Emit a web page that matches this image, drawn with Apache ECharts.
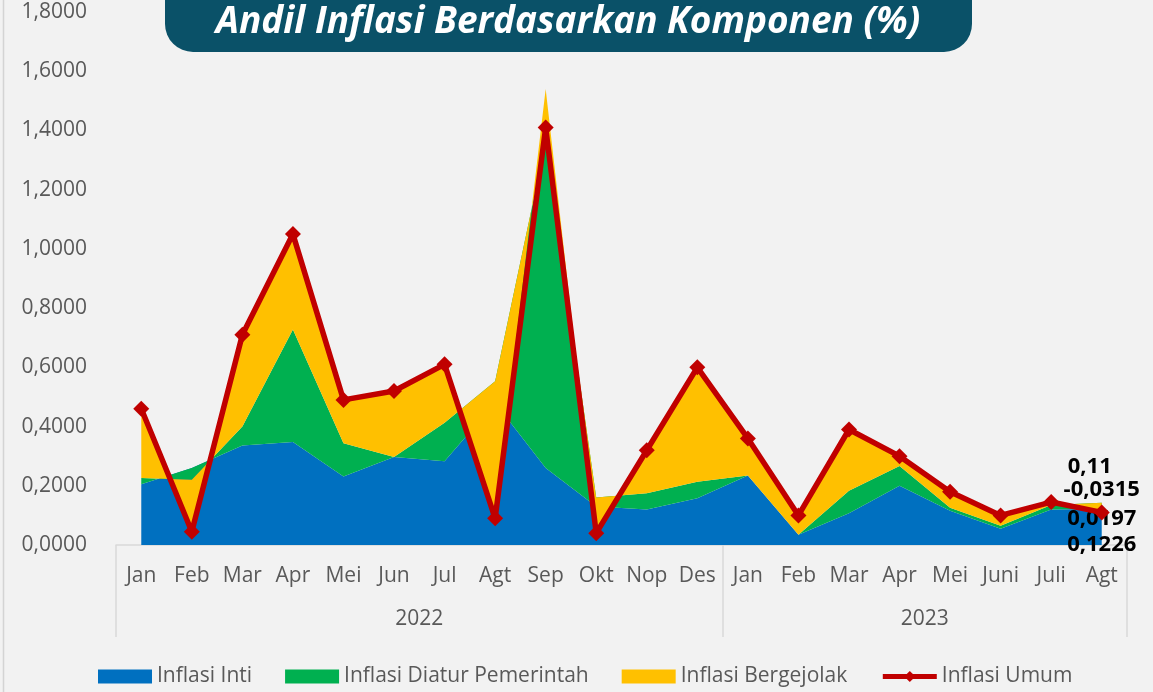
<!DOCTYPE html>
<html>
<head>
<meta charset="utf-8">
<script src="https://cdn.jsdelivr.net/npm/echarts@6/dist/echarts.min.js"></script>
<style>
html,body{margin:0;padding:0;background:#f2f2f2;}
#c{width:1153px;height:692px;}
</style>
</head>
<body>
<div id="c"></div>
<script>
// ---- data ----
var months = ['Jan','Feb','Mar','Apr','Mei','Jun','Jul','Agt','Sep','Okt','Nop','Des','Jan','Feb','Mar','Apr','Mei','Juni','Juli','Agt'];
var years = ['2022','2023'];
var yearSpans = [12, 8];
var inti       = [0.205, 0.26, 0.336, 0.348, 0.231, 0.297, 0.283, 0.48, 0.26, 0.13, 0.12, 0.158, 0.235, 0.035, 0.107, 0.20, 0.116, 0.055, 0.12, 0.1226];
var diatur     = [0.021, -0.04, 0.064, 0.38, 0.113, 0.0, 0.13, 0.073, 1.10, 0.03, 0.055, 0.056, 0.0, 0.0, 0.076, 0.067, 0.01, 0.01, 0.015, 0.0197];
var bergejolak = [0.234, -0.175, 0.31, 0.322, 0.146, 0.223, 0.197, -0.463, 0.18, -0.12, 0.145, 0.386, 0.125, 0.065, 0.202, 0.03, 0.052, 0.035, 0.01, -0.0315];
var umum       = [0.46, 0.045, 0.71, 1.05, 0.49, 0.52, 0.61, 0.09, 1.41, 0.04, 0.32, 0.60, 0.36, 0.10, 0.39, 0.30, 0.18, 0.10, 0.145, 0.11];
var names = ['Inflasi Inti','Inflasi Diatur Pemerintah','Inflasi Bergejolak','Inflasi Umum'];
var colors = ['#0070C0','#00B050','#FFC000','#C00000'];

var FONT = '"Open Sans", "Liberation Sans", sans-serif';
function comma(v){ return String(v).replace('.', ','); }

function withLastLabel(arr, offset){
  return arr.map(function(v, i){
    if (i === arr.length - 1) {
      return { value: v, label: { show: true, position: 'inside', offset: offset,
        formatter: function(p){ return comma(p.value); },
        color: '#000', fontWeight: 'bold', fontSize: 22, fontFamily: FONT } };
    }
    return v;
  });
}

function areaSeries(name, arr, color, offset){
  return {
    name: name, type: 'line', stack: 'total', stackStrategy: 'all',
    data: withLastLabel(arr, offset),
    color: color,
    symbol: 'circle', symbolSize: 0, showSymbol: true, showAllSymbol: true,
    lineStyle: { width: 0 },
    itemStyle: { color: color },
    areaStyle: { color: color, opacity: 1 },
    emphasis: { disabled: true },
    z: 2
  };
}

// year tick boundaries on 0..N scale
var bounds = [0]; var centers = [];
yearSpans.reduce(function(acc, s){ centers.push(acc + s / 2); bounds.push(acc + s); return acc + s; }, 0);

var chart = echarts.init(document.getElementById('c'));
chart.setOption({
  backgroundColor: '#f2f2f2',
  animation: false,
  grid: { left: 116, right: 26, top: 12, bottom: 147 },
  legend: {
    top: 661, left: 93,
    itemWidth: 54, itemHeight: 14, itemGap: 33,
    textStyle: { fontSize: 21, color: '#595959', fontFamily: FONT },
    data: [
      { name: names[0], icon: 'rect' },
      { name: names[1], icon: 'rect' },
      { name: names[2], icon: 'rect' },
      { name: names[3], lineStyle: { width: 5, color: colors[3] } }
    ]
  },
  xAxis: [
    {
      type: 'category', data: months, boundaryGap: true,
      axisLine: { show: false }, axisTick: { show: false },
      axisLabel: { color: '#595959', fontSize: 21, fontFamily: FONT, margin: 21, interval: 0 },
      splitLine: { show: false }
    },
    {
      type: 'value', min: 0, max: months.length, position: 'bottom',
      axisLine: { show: true, lineStyle: { color: '#d9d9d9', width: 1.5 } },
      axisTick: { show: true, customValues: bounds, length: 92, lineStyle: { color: '#d9d9d9', width: 1.5 } },
      axisLabel: { show: true, customValues: centers, margin: 64, color: '#595959', fontSize: 21, fontFamily: FONT,
        formatter: function(v){ return years[centers.indexOf(v)] || ''; } },
      splitLine: { show: false }
    }
  ],
  yAxis: {
    type: 'value', min: 0, max: 1.8, interval: 0.2,
    axisLine: { show: false }, axisTick: { show: false },
    splitLine: { show: false },
    axisLabel: { color: '#595959', fontSize: 21, fontFamily: FONT, margin: 29,
      formatter: function(v){ return v.toFixed(4).replace('.', ','); } }
  },
  series: [
    areaSeries(names[0], inti, colors[0], [0, 36]),
    areaSeries(names[1], diatur, colors[1], [0, 16]),
    areaSeries(names[2], bergejolak, colors[2], [0, -22]),
    {
      name: names[3], type: 'line', data: withLastLabel(umum, [-12, -46]),
      color: colors[3],
      symbol: 'diamond', symbolSize: 16, showSymbol: true,
      lineStyle: { color: colors[3], width: 5.5 },
      itemStyle: { color: colors[3] },
      emphasis: { disabled: true },
      z: 5
    }
  ],
  graphic: [
    { type: 'line', shape: { x1: 3.5, y1: 0, x2: 3.5, y2: 692 }, style: { stroke: '#d4d4d4', lineWidth: 1.5 } },
    { type: 'rect', shape: { x: 165, y: -40, width: 807, height: 92, r: 28 }, style: { fill: '#0A5168' }, z: 10 },
    { type: 'text', x: 568, y: 22, z: 11,
      style: { text: 'Andil Inflasi Berdasarkan Komponen (%)', fill: '#fff', font: 'italic bold 37px "Open Sans", sans-serif',
        textAlign: 'center', textVerticalAlign: 'middle' } }
  ]
});
</script>
</body>
</html>
